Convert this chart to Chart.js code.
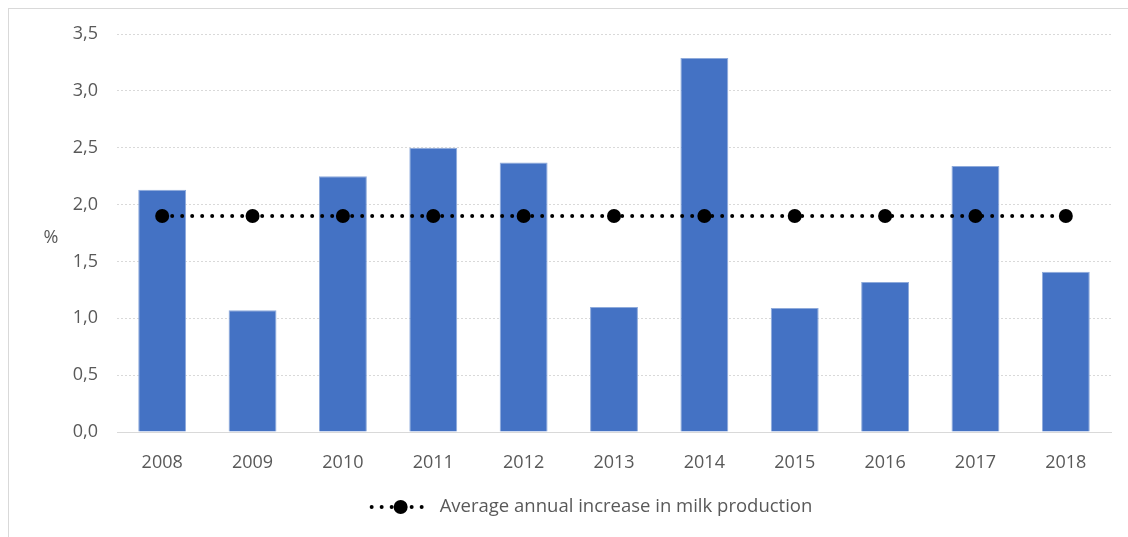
<!DOCTYPE html>
<html>
<head>
<meta charset="utf-8">
<script src="https://cdn.jsdelivr.net/npm/chart.js@4.4.0/dist/chart.umd.min.js"></script>
<style>
  html, body { margin: 0; padding: 0; background: #fff; }
  #wrap { position: relative; width: 1128px; height: 537px; }
  #frame { position: absolute; left: 8px; top: 8px; width: 1130px; height: 540px; border: 1px solid #d9d9d9; box-sizing: border-box; }
</style>
</head>
<body>
<div id="wrap">
  <div id="frame"></div>
  <canvas id="chart" width="1128" height="537"></canvas>
</div>
<script>
// Years and annual growth of milk production (%)
var years = ['2008', '2009', '2010', '2011', '2012', '2013', '2014', '2015', '2016', '2017', '2018'];
var growth = [2.13, 1.07, 2.25, 2.50, 2.37, 1.10, 3.29, 1.09, 1.32, 2.34, 1.41];
var averageGrowth = [1.9, 1.9, 1.9, 1.9, 1.9, 1.9, 1.9, 1.9, 1.9, 1.9, 1.9];
var averageLabel = 'Average annual increase in milk production';

var textColor = '#595959';
var fontFamily = '"Open Sans", "DejaVu Sans", sans-serif';

// Draws the "%" unit and the legend under the axis
var extras = {
    id: 'extras',
    afterDraw: function (chart) {
        var ctx = chart.ctx;
        ctx.save();
        ctx.fillStyle = textColor;
        ctx.font = '18px ' + fontFamily;
        ctx.textAlign = 'center';
        ctx.textBaseline = 'middle';
        ctx.fillText('%', 51, 238);

        // legend entry
        ctx.font = '18.5px ' + fontFamily;
        var tw = ctx.measureText(averageLabel).width;
        var total = 60 + 10 + tw;
        var x0 = 591 - total / 2;
        var y = 507;
        ctx.strokeStyle = '#000';
        ctx.lineWidth = 4;
        ctx.lineCap = 'round';
        ctx.setLineDash([0, 10]);
        ctx.beginPath();
        ctx.moveTo(x0 + 2, y);
        ctx.lineTo(x0 + 60, y);
        ctx.stroke();
        ctx.setLineDash([]);
        ctx.fillStyle = '#000';
        ctx.beginPath();
        ctx.arc(x0 + 31, y, 7, 0, Math.PI * 2);
        ctx.fill();
        ctx.fillStyle = textColor;
        ctx.textAlign = 'left';
        ctx.fillText(averageLabel, x0 + 70, y);
        ctx.restore();
    }
};

var chartCanvas = document.getElementById('chart').getContext('2d');

new Chart(chartCanvas, {
    type: 'bar',
    data: {
        labels: years,
        datasets: [
            {
                type: 'line',
                label: averageLabel,
                data: averageGrowth,
                borderColor: '#000',
                borderWidth: 4,
                borderDash: [0, 10],
                borderCapStyle: 'round',
                pointRadius: 7,
                pointBackgroundColor: '#000',
                pointBorderWidth: 0,
                order: 0
            },
            {
                label: 'Growth',
                data: growth,
                backgroundColor: '#4472c4',
                borderColor: '#8eaadb',
                borderWidth: 1,
                categoryPercentage: 1,
                barPercentage: 0.53,
                order: 1
            }
        ]
    },
    options: {
        responsive: false,
        animation: false,
        layout: { padding: { top: 34, right: 17, bottom: 0, left: 0 } },
        plugins: {
            legend: { display: false },
            tooltip: { enabled: false }
        },
        scales: {
            x: {
                grid: { display: false },
                border: { color: '#d9d9d9', width: 1 },
                ticks: { color: textColor, font: { family: fontFamily, size: 18 }, padding: 12 },
                afterFit: function (s) { s.height = 105; }
            },
            y: {
                min: 0,
                max: 3.5,
                grid: { color: '#d9d9d9', drawTicks: false },
                border: { display: false, dash: [2, 2] },
                ticks: {
                    stepSize: 0.5,
                    color: textColor,
                    font: { family: fontFamily, size: 18 },
                    padding: 19,
                    callback: function (v) { return v.toFixed(1).replace('.', ','); }
                },
                afterFit: function (s) { s.width = 117; }
            }
        }
    },
    plugins: [extras]
});
</script>
</body>
</html>
